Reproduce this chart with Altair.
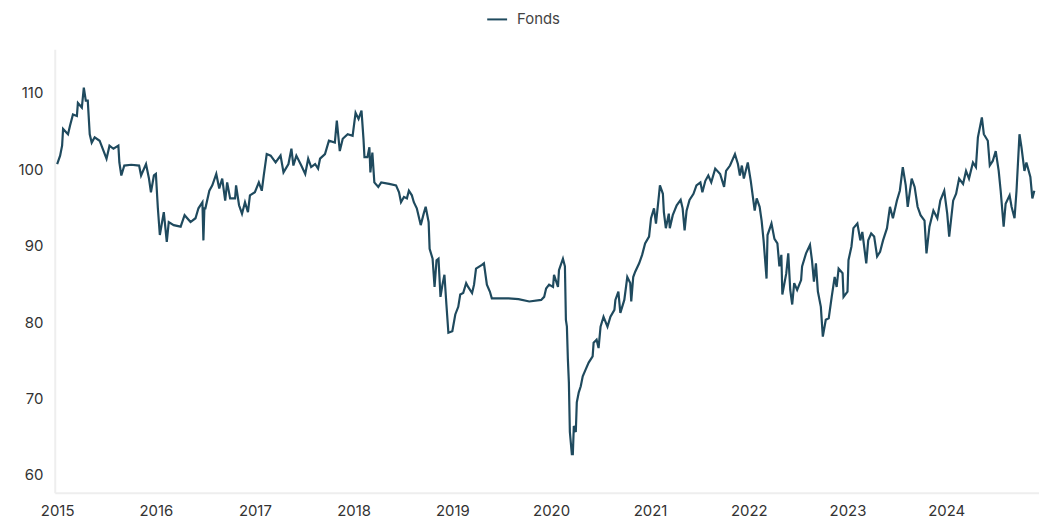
import altair as alt
import pandas as pd

series_name = "Fonds"

# decimal-year positions and fund values
years = [
    2015.00, 2015.03, 2015.05, 2015.06, 2015.11, 2015.13, 2015.16, 2015.20, 2015.21, 2015.25,
    2015.27, 2015.29, 2015.31, 2015.33, 2015.35, 2015.38, 2015.43, 2015.50, 2015.53, 2015.57,
    2015.62, 2015.63, 2015.65, 2015.68, 2015.75, 2015.83, 2015.85, 2015.90, 2015.93, 2015.95,
    2015.98, 2016.00, 2016.02, 2016.04, 2016.08, 2016.11, 2016.13, 2016.18, 2016.25, 2016.29,
    2016.35, 2016.40, 2016.43, 2016.47, 2016.48, 2016.49, 2016.50, 2016.54, 2016.57, 2016.61,
    2016.64, 2016.67, 2016.70, 2016.72, 2016.75, 2016.80, 2016.81, 2016.84, 2016.87, 2016.90,
    2016.93, 2016.95, 2017.00, 2017.04, 2017.07, 2017.09, 2017.12, 2017.16, 2017.21, 2017.26,
    2017.29, 2017.34, 2017.37, 2017.39, 2017.42, 2017.47, 2017.51, 2017.54, 2017.57, 2017.61,
    2017.64, 2017.66, 2017.71, 2017.75, 2017.81, 2017.83, 2017.86, 2017.89, 2017.94, 2017.99,
    2018.02, 2018.05, 2018.08, 2018.10, 2018.11, 2018.14, 2018.16, 2018.17, 2018.19, 2018.21,
    2018.25, 2018.28, 2018.36, 2018.43, 2018.46, 2018.48, 2018.51, 2018.54, 2018.56, 2018.59,
    2018.61, 2018.64, 2018.68, 2018.71, 2018.73, 2018.76, 2018.77, 2018.80, 2018.82, 2018.84,
    2018.86, 2018.88, 2018.90, 2018.92, 2018.94, 2018.96, 2019.00, 2019.03, 2019.06, 2019.08,
    2019.11, 2019.14, 2019.16, 2019.20, 2019.22, 2019.24, 2019.30, 2019.32, 2019.35, 2019.38,
    2019.40, 2019.57, 2019.67, 2019.78, 2019.90, 2019.93, 2019.95, 2019.98, 2020.02, 2020.03,
    2020.07, 2020.08, 2020.12, 2020.14, 2020.15, 2020.16, 2020.17, 2020.18, 2020.19, 2020.21,
    2020.22, 2020.23, 2020.25, 2020.26, 2020.28, 2020.30, 2020.32, 2020.35, 2020.38, 2020.42,
    2020.43, 2020.46, 2020.48, 2020.50, 2020.53, 2020.57, 2020.60, 2020.64, 2020.65, 2020.68,
    2020.70, 2020.74, 2020.77, 2020.80, 2020.81, 2020.83, 2020.85, 2020.89, 2020.92, 2020.95,
    2020.99, 2021.01, 2021.04, 2021.06, 2021.09, 2021.10, 2021.13, 2021.14, 2021.16, 2021.19,
    2021.20, 2021.23, 2021.27, 2021.31, 2021.33, 2021.35, 2021.37, 2021.40, 2021.44, 2021.47,
    2021.51, 2021.53, 2021.56, 2021.59, 2021.62, 2021.66, 2021.71, 2021.75, 2021.77, 2021.81,
    2021.86, 2021.89, 2021.91, 2021.93, 2021.95, 2021.99, 2022.02, 2022.06, 2022.08, 2022.11,
    2022.13, 2022.15, 2022.18, 2022.19, 2022.23, 2022.26, 2022.29, 2022.31, 2022.33, 2022.34,
    2022.38, 2022.40, 2022.42, 2022.44, 2022.46, 2022.49, 2022.53, 2022.54, 2022.58, 2022.62,
    2022.64, 2022.66, 2022.68, 2022.70, 2022.73, 2022.75, 2022.78, 2022.81, 2022.84, 2022.87,
    2022.89, 2022.91, 2022.95, 2022.96, 2023.00, 2023.01, 2023.04, 2023.06, 2023.10, 2023.13,
    2023.15, 2023.19, 2023.21, 2023.24, 2023.27, 2023.30, 2023.33, 2023.36, 2023.40, 2023.43,
    2023.46, 2023.50, 2023.53, 2023.56, 2023.59, 2023.61, 2023.65, 2023.68, 2023.71, 2023.74,
    2023.78, 2023.80, 2023.83, 2023.87, 2023.91, 2023.94, 2023.98, 2024.01, 2024.03, 2024.07,
    2024.10, 2024.13, 2024.17, 2024.20, 2024.23, 2024.27, 2024.30, 2024.32, 2024.36, 2024.38,
    2024.42, 2024.44, 2024.47, 2024.50, 2024.53, 2024.55, 2024.58, 2024.60, 2024.64, 2024.66,
    2024.69, 2024.71, 2024.74, 2024.76, 2024.79, 2024.81, 2024.85, 2024.87, 2024.89,
]

values = [
    100.7, 101.8, 103.1, 105.3, 104.6, 105.7, 107.2, 107.0, 108.7, 108.1,
    110.7, 109.0, 109.0, 104.6, 103.5, 104.2, 103.75, 101.4, 103.1, 102.7,
    103.1, 100.9, 99.2, 100.5, 100.6, 100.5, 99.2, 100.7, 98.8, 97.0,
    99.2, 99.4, 94.9, 91.4, 94.4, 90.5, 93.1, 92.7, 92.5, 94.0,
    93.1, 93.6, 94.9, 95.7, 90.7, 94.9, 94.9, 97.2, 97.9, 99.4,
    97.5, 98.8, 95.9, 98.3, 96.2, 96.2, 97.9, 95.3, 94.2, 95.7,
    94.4, 96.6, 97.0, 98.3, 97.2, 99.2, 102.0, 101.8, 100.9, 101.8,
    99.6, 100.7, 102.7, 100.5, 101.8, 100.5, 99.4, 101.4, 100.3, 100.7,
    100.1, 101.4, 102.0, 103.75, 103.5, 106.4, 102.4, 104.0, 104.6, 104.4,
    107.4, 106.6, 107.7, 104.0, 101.6, 101.6, 102.9, 99.6, 102.2, 98.3,
    97.7, 98.3, 98.1, 97.9, 97.0, 95.7, 96.4, 96.2, 97.2, 96.6,
    95.7, 94.9, 92.7, 94.2, 95.1, 93.1, 89.6, 88.3, 84.6, 88.1,
    88.3, 83.3, 84.9, 86.2, 82.3, 78.6, 78.8, 81.0, 82.0, 83.6,
    83.8, 85.1, 84.6, 83.8, 84.9, 87.0, 87.5, 87.7, 84.9, 84.0,
    83.1, 83.1, 83.0, 82.7, 82.9, 83.3, 84.4, 84.9, 84.6, 86.2,
    84.6, 86.8, 88.3, 87.3, 80.3, 79.4, 75.1, 72.1, 65.6, 62.7,
    62.7, 66.4, 65.6, 69.5, 70.8, 71.6, 72.9, 73.8, 74.7, 75.5,
    77.3, 77.7, 76.6, 79.4, 80.7, 79.4, 80.7, 81.6, 82.9, 84.0,
    81.2, 82.9, 85.9, 85.1, 82.7, 85.9, 86.6, 87.7, 88.8, 90.3,
    91.2, 93.6, 94.9, 92.9, 96.6, 97.9, 96.8, 94.4, 92.3, 94.2,
    92.3, 94.0, 95.3, 96.0, 94.9, 92.0, 94.6, 96.0, 96.8, 97.9,
    98.3, 97.0, 98.5, 99.2, 98.3, 100.1, 99.4, 97.7, 99.8, 100.5,
    102.0, 100.7, 99.2, 100.5, 98.8, 100.9, 98.5, 94.6, 96.2, 95.1,
    93.3, 90.7, 85.7, 91.4, 92.9, 90.9, 90.3, 87.3, 88.8, 83.6,
    86.4, 89.0, 84.2, 82.3, 85.1, 84.2, 85.5, 87.3, 89.0, 90.1,
    88.1, 85.3, 87.7, 84.0, 82.0, 78.1, 80.3, 80.5, 83.3, 85.9,
    84.6, 87.0, 86.4, 83.3, 84.0, 88.1, 89.9, 92.3, 92.9, 90.7,
    91.8, 87.7, 90.7, 91.6, 91.2, 88.6, 89.2, 90.7, 92.3, 95.1,
    93.6, 95.9, 97.2, 100.3, 97.9, 95.1, 98.8, 97.7, 95.1, 94.0,
    93.3, 89.0, 92.5, 94.6, 93.6, 95.9, 97.2, 94.2, 91.2, 95.9,
    96.8, 98.8, 98.1, 99.8, 98.8, 100.9, 100.3, 104.2, 106.8, 104.6,
    103.75, 100.5, 101.1, 102.4, 99.8, 97.2, 92.5, 95.5, 96.6, 95.1,
    93.6, 97.2, 104.6, 102.9, 99.8, 100.9, 99.0, 96.2, 97.2,
]

y_ticks = [60, 70, 80, 90, 100, 110]


def to_date(y):
    start = pd.Timestamp(year=int(y), month=1, day=1)
    end = pd.Timestamp(year=int(y) + 1, month=1, day=1)
    return start + (end - start) * (y - int(y))


df = pd.DataFrame({
    "date": [to_date(y) for y in years],
    "value": values,
    "series": series_name,
})

line_color = "#1f4a5e"
font = "Inter"

chart = (
    alt.Chart(df)
    .mark_line(strokeWidth=2.2, interpolate="linear")
    .encode(
        x=alt.X(
            "date:T",
            title=None,
            scale=alt.Scale(
                domain=[
                    alt.DateTime(year=2014, month=12, date=23),
                    alt.DateTime(year=2024, month=12, date=9),
                ]
            ),
            axis=alt.Axis(
                format="%Y",
                tickCount={"interval": "year", "step": 1},
                grid=False,
                ticks=False,
                domain=True,
                domainColor="#eeeeee",
                domainWidth=2,
                labelFont=font,
                labelFontSize=15,
                labelColor="#333333",
                labelPadding=11,
                labelOverlap=False,
            ),
        ),
        y=alt.Y(
            "value:Q",
            title=None,
            scale=alt.Scale(domain=[57.66, 115.73], nice=False, zero=False),
            axis=alt.Axis(
                values=y_ticks,
                grid=False,
                ticks=False,
                domain=True,
                domainColor="#eeeeee",
                domainWidth=2,
                labelFont=font,
                labelFontSize=15,
                labelColor="#333333",
                labelPadding=12,
            ),
        ),
        color=alt.Color(
            "series:N",
            scale=alt.Scale(range=[line_color]),
            legend=alt.Legend(
                title=None,
                orient="none",
                legendX=434,
                legendY=-41,
                symbolType="stroke",
                symbolSize=400,
                symbolStrokeWidth=2,
                labelFont=font,
                labelFontSize=15,
                labelColor="#444444",
                labelOffset=9,
                padding=0,
            ),
        ),
    )
    .properties(
        width=990,
        height=446,
        padding={"left": 47, "top": 40, "right": 0, "bottom": 26},
        autosize=alt.AutoSizeParams(type="none"),
    )
    .configure_view(stroke=None)
)

chart.save("out.html", embed_options={"renderer": "svg", "actions": False})
